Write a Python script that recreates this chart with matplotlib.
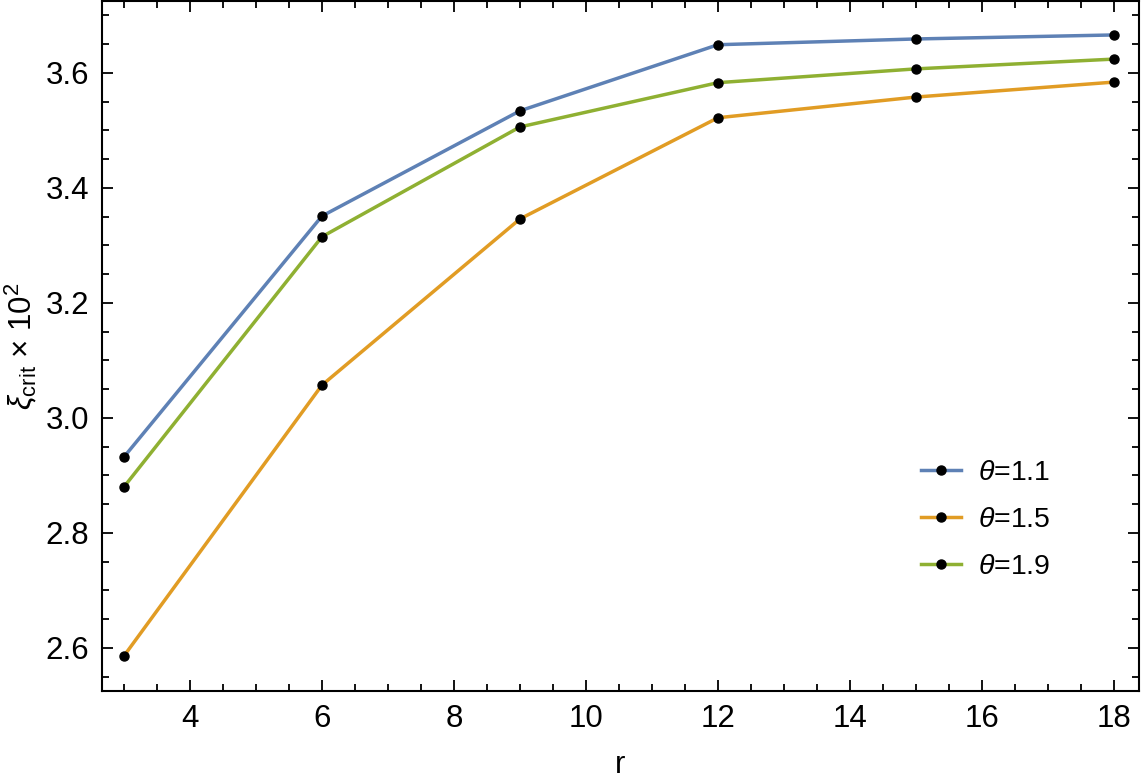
import numpy as np
import matplotlib.pyplot as plt
from matplotlib.ticker import MultipleLocator

plt.rcParams['font.family'] = ['Liberation Sans', 'DejaVu Sans']
plt.rcParams['mathtext.fontset'] = 'custom'
plt.rcParams['mathtext.rm'] = 'Liberation Sans'
plt.rcParams['mathtext.it'] = 'Liberation Sans:italic'

# données
r = [3, 6, 9, 12, 15, 18]
xi_11 = [2.932, 3.351, 3.534, 3.649, 3.659, 3.666]
xi_15 = [2.586, 3.057, 3.346, 3.522, 3.558, 3.584]
xi_19 = [2.880, 3.315, 3.506, 3.583, 3.607, 3.624]
labels = [r'$\theta$=1.1', r'$\theta$=1.5', r'$\theta$=1.9']
couleurs = ['#5E81B5', '#E19C24', '#8FB032']

fig = plt.figure(figsize=(11.42, 7.84), dpi=100)
ax = fig.add_axes([0.0893, 0.1186, 0.9081, 0.8801])

for y, lab, c in zip([xi_11, xi_15, xi_19], labels, couleurs):
    ax.plot(r, y, color=c, lw=2.5, marker='o', ms=6.5, mfc='black', mec='black', label=lab)

ax.set_xlim(2.667, 18.38)
ax.set_ylim(2.525, 3.725)
ax.xaxis.set_major_locator(MultipleLocator(2))
ax.xaxis.set_minor_locator(MultipleLocator(0.5))
ax.yaxis.set_major_locator(MultipleLocator(0.2))
ax.yaxis.set_minor_locator(MultipleLocator(0.05))
ax.yaxis.set_major_formatter(plt.FormatStrFormatter('%.1f'))
ax.tick_params(which='both', direction='in', top=True, right=True, labelsize=22.5, width=1.3)
ax.tick_params(which='major', length=8, pad=9)
ax.tick_params(which='minor', length=5)
for s in ax.spines.values():
    s.set_linewidth(1.5)

ax.set_xlabel('r', fontsize=22.5, labelpad=12)
ax.set_ylabel(r'$\xi_{\rm crit}$ $\times$ 10$^2$', fontsize=22.5, labelpad=5)

ax.legend(loc='center left', bbox_to_anchor=(0.765, 0.248), frameon=False, fontsize=20.5,
          handlelength=1.4, handletextpad=0.6, labelspacing=0.75)

plt.savefig('out.png', dpi=100)
